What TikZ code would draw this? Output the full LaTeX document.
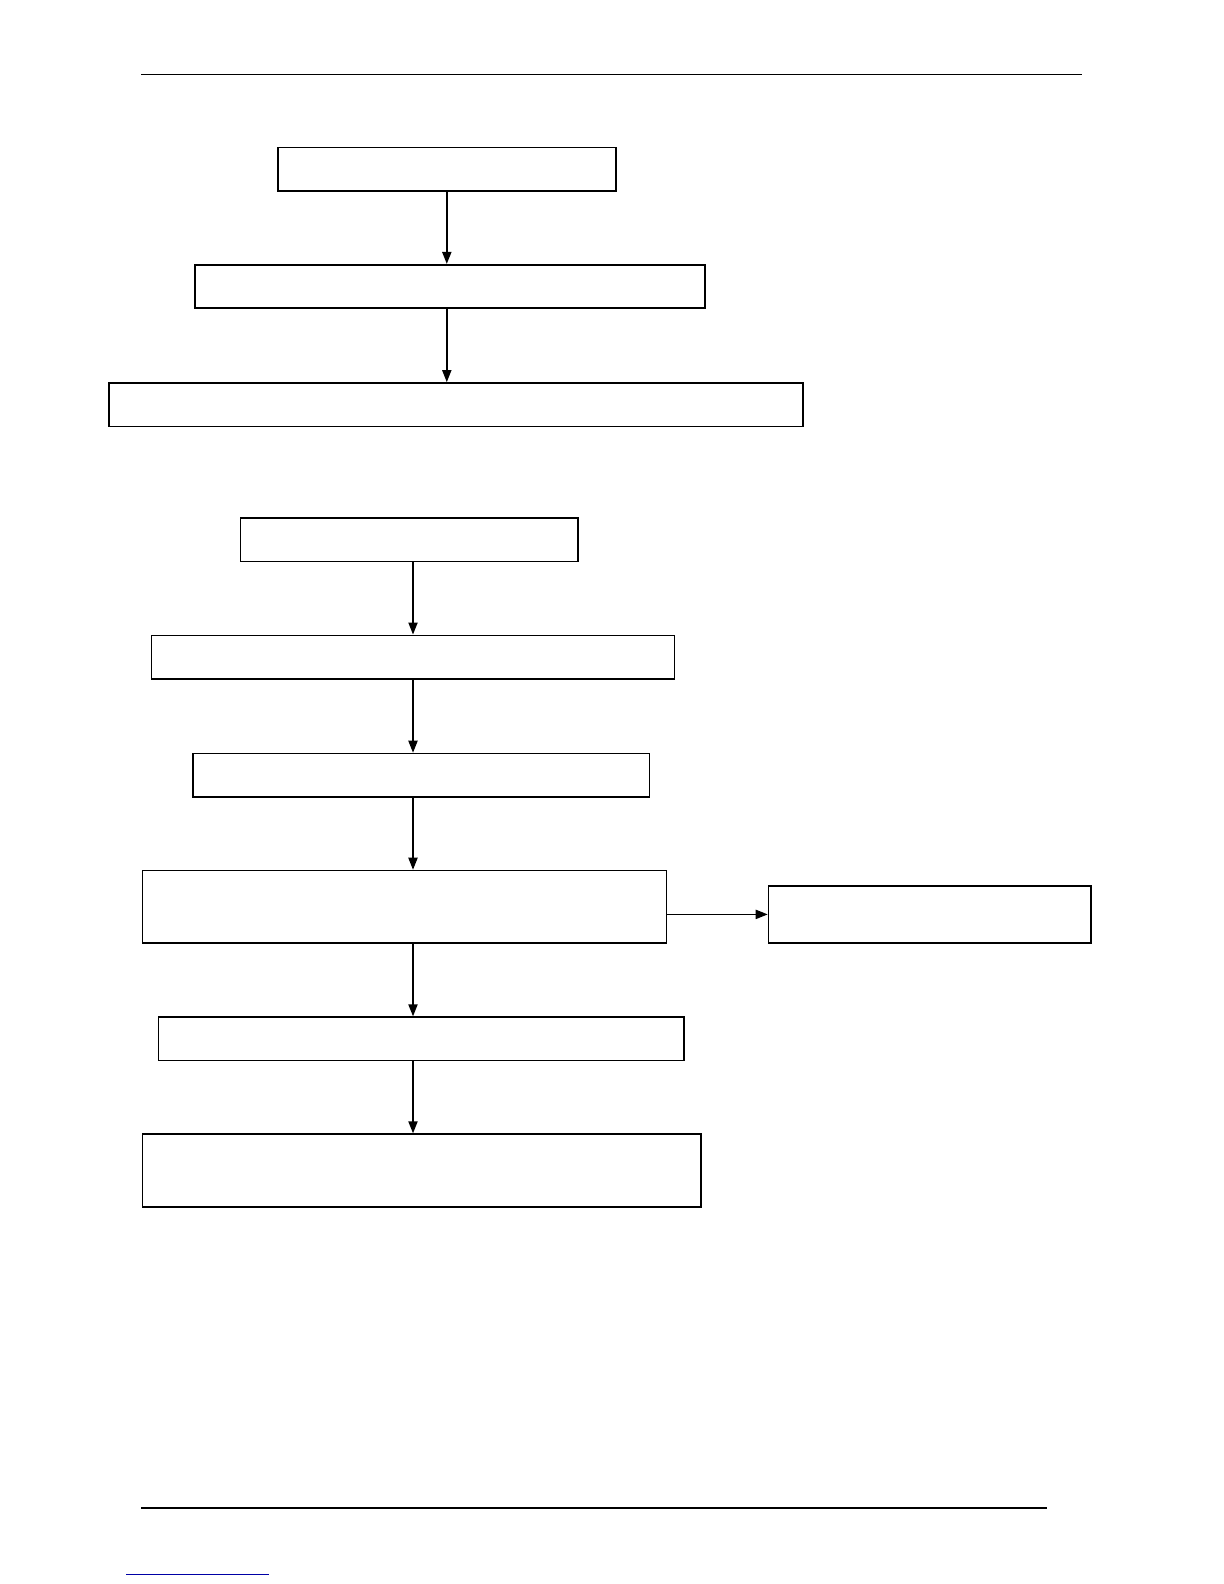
\documentclass[tikz,border=0pt]{standalone}
\usetikzlibrary{arrows.meta}

\tikzset{
  flowbox/.style={draw, line width=.8pt, inner sep=0pt, minimum height=21.7pt},
  flowarrow/.style={-{Triangle[length=6pt,width=4.6pt]}, line width=.7pt}
}

\begin{document}
\begin{tikzpicture}[x=1pt,y=-1pt]
            % page frame
            \useasboundingbox (0,0) rectangle (612,792);

            % Draw header and footer rules
            \draw[line width=.7pt] (70.7,37.4) -- (540.8,37.4);
            \draw[line width=.7pt] (70.7,753.9) -- (523.6,753.9);
            \draw[line width=.8pt, blue!65!black] (63.1,787.2) -- (134.3,787.2);

            % Draw upper chain
            \node[flowbox, minimum width=169.1pt] (top1) at (223.4,84.6) {};
            \node[flowbox, minimum width=255pt] (top2) at (225,143.2) {};
            \node[flowbox, minimum width=346.9pt] (top3) at (228,202.3) {};

            % Draw lower chain
            \node[flowbox, minimum width=168.7pt] (low1) at (204.5,269.9) {};
            \node[flowbox, minimum width=261.5pt] (low2) at (206.5,328.5) {};
            \node[flowbox, minimum width=228.2pt] (low3) at (210.6,387.6) {};
            \node[flowbox, minimum width=262.1pt, minimum height=36.3pt] (low4) at (202.2,453.4) {};
            \node[flowbox, minimum width=161.1pt, minimum height=28.7pt] (side) at (464.8,457.2) {};
            \node[flowbox, minimum width=262.6pt] (low5) at (210.6,519.4) {};
            \node[flowbox, minimum width=279.3pt, minimum height=36.3pt] (low6) at (210.8,585.2) {};

            % Draw arrows
            \foreach \a/\b in {top1/top2, top2/top3} {
              \draw[flowarrow] (top1.south |- \a.south) -- (top1.south |- \b.north);
            }
            \foreach \a/\b in {low1/low2, low2/low3, low3/low4, low4/low5, low5/low6} {
              \draw[flowarrow] (low2.south |- \a.south) -- (low2.south |- \b.north);
            }
            \draw[flowarrow, line width=.8pt] (low4.east |- side.west) -- (side.west);
        \end{tikzpicture}
\end{document}
